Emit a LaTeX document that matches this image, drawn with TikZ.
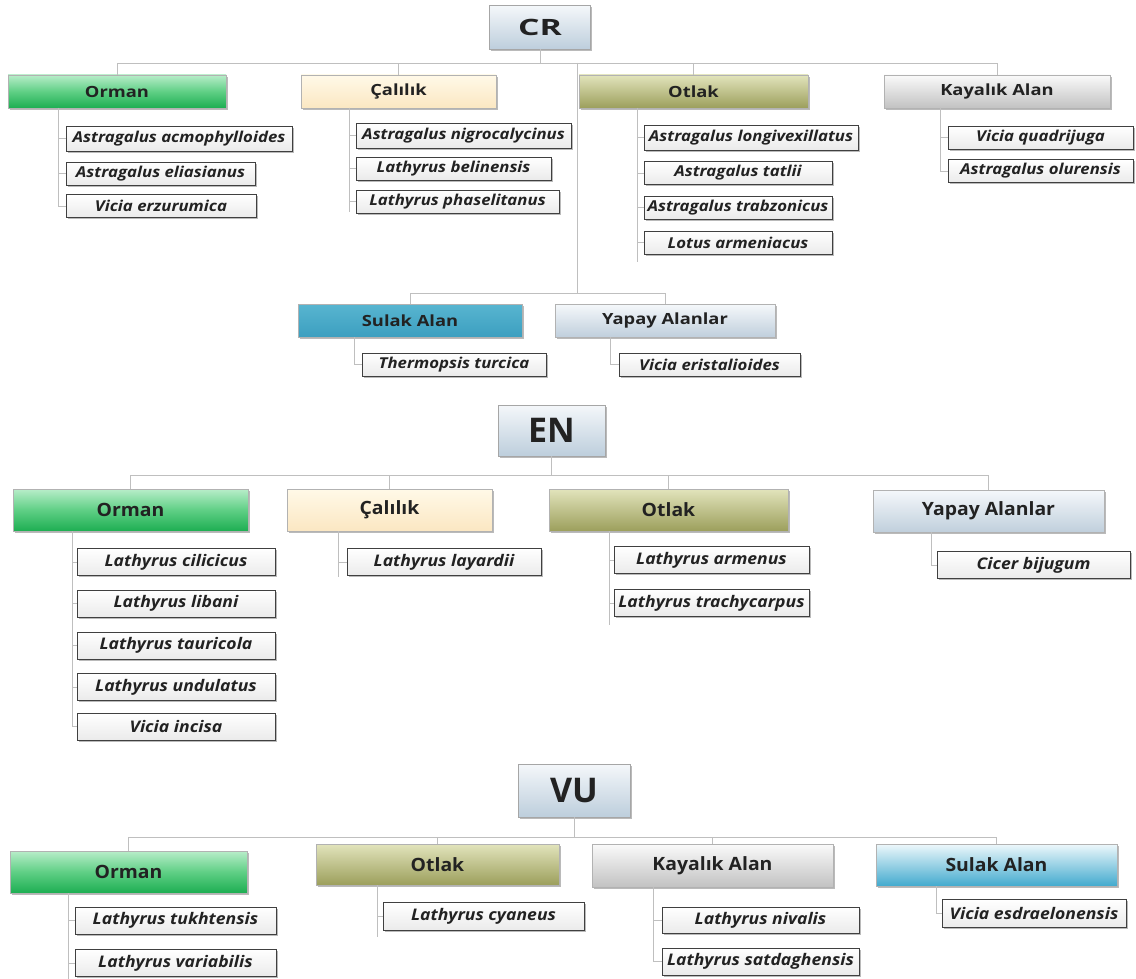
\documentclass[tikz,border=0pt]{standalone}
\usepackage{fontspec}
\setmainfont{Open Sans}
\newfontfamily\fLeafCR{Open Sans}[FakeStretch=1.12]
\newfontfamily\fLeaf{Open Sans}[FakeStretch=1.10]
\newfontfamily\fCatCR{Open Sans}[FakeStretch=1.19]
\newfontfamily\fCat{Open Sans}[FakeStretch=1.06]
\newfontfamily\fRootCR{Open Sans}[FakeStretch=1.5]
\usetikzlibrary{shadows}
\definecolor{txt}{HTML}{222222}
\definecolor{rootT}{HTML}{F4F7FA}\definecolor{rootB}{HTML}{BDCEDC}
\definecolor{ormT}{HTML}{B8EDC9}\definecolor{ormM}{HTML}{5FCF85}\definecolor{ormB}{HTML}{1DAE52}
\definecolor{calT}{HTML}{FFF9E8}\definecolor{calB}{HTML}{FBE7C2}
\definecolor{otlT}{HTML}{E2E4BC}\definecolor{otlB}{HTML}{9C9F5C}
\definecolor{kayT}{HTML}{FAFAFA}\definecolor{kayB}{HTML}{C2C2C2}
\definecolor{yapT}{HTML}{F5F8FB}\definecolor{yapB}{HTML}{C0CFDC}
\definecolor{sulT}{HTML}{58B5D0}\definecolor{sulB}{HTML}{3C9FC0}
\definecolor{sulVT}{HTML}{EEF8FB}\definecolor{sulVB}{HTML}{42AACE}
\tikzset{
  base/.style={inner sep=0pt, outer sep=0pt, text=txt,
    drop shadow={shadow xshift=1.6pt, shadow yshift=-1.6pt, opacity=.45, fill=black!60}},
  root/.style={base, draw=gray!70, top color=rootT, bottom color=rootB},
  rootCR/.style={root, font=\fRootCR\fontsize{22.5}{26}\selectfont\bfseries},
  rootBig/.style={root, font=\fontsize{34}{40}\selectfont\bfseries},
  cat/.style={base, draw=gray!60, font=\fCatCR\fontsize{15.4}{18}\selectfont\bfseries},
  catBig/.style={base, draw=gray!60, font=\fCat\fontsize{18.3}{21}\selectfont\bfseries},
  orm/.style={top color=ormT, bottom color=ormB, middle color=ormM},
  cal/.style={top color=calT, bottom color=calB},
  otl/.style={top color=otlT, bottom color=otlB},
  kay/.style={top color=kayT, bottom color=kayB},
  yap/.style={top color=yapT, bottom color=yapB},
  sul/.style={top color=sulT, bottom color=sulB},
  sulV/.style={top color=sulVT, bottom color=sulVB},
  leafbase/.style={base, draw=black!75, top color=white, bottom color=gray!16},
  leaf/.style={leafbase, font=\fLeafCR\fontsize{15}{17}\selectfont\bfseries\itshape},
  leafB/.style={leafbase, font=\fLeaf\fontsize{16}{18}\selectfont\bfseries\itshape},
  conn/.style={draw=gray!50, line width=0.9pt},
}
\begin{document}
\begin{tikzpicture}[x=1pt,y=-1pt]
\useasboundingbox[fill=white] (0,0) rectangle (1136,979);
% ================= CR =================
\node[rootCR, minimum width=101pt, minimum height=44pt] (cr) at (540,27.5) {CR};
\coordinate (crh) at (0,63);
\node[cat, orm, minimum width=218pt, minimum height=33pt] (crO) at (117,91.5) {Orman};
\node[cat, cal, minimum width=195pt, minimum height=33pt] (crC) at (398.5,91.5) {Çalılık};
\node[cat, otl, minimum width=229pt, minimum height=33pt] (crT) at (693.5,91.5) {Otlak};
\node[cat, kay, minimum width=226pt, minimum height=33pt] (crK) at (997,91.5) {Kayalık Alan};
\node[cat, sul, minimum width=224pt, minimum height=33pt] (crS) at (410,320.5) {Sulak Alan};
\node[cat, yap, minimum width=220pt, minimum height=33pt] (crY) at (665,320.5) {Yapay Alanlar};
\draw[conn] (cr.south) -- (cr.south |- crh) -| (crO.north);
\draw[conn] (cr.south |- crh) -| (crC.north);
\draw[conn] (cr.south |- crh) -| (crT.north);
\draw[conn] (cr.south |- crh) -| (crK.north);
\coordinate (crj) at (577,293);
\draw[conn] (crj |- crh) -- (crj) -| (crS.north);
\draw[conn] (crj) -| (crY.north);
% CR leaves
\node[leaf, minimum width=226pt, minimum height=25pt] (l1) at (179,138.5) {Astragalus acmophylloides};
\node[leaf, minimum width=189pt, minimum height=23pt] (l2) at (160.5,173.5) {Astragalus eliasianus};
\node[leaf, minimum width=190pt, minimum height=23pt] (l3) at (161,206) {Vicia erzurumica};
\coordinate (x1) at (58,0);
\draw[conn] (crO.south -| x1) |- (l1.west);
\draw[conn] (crO.south -| x1) |- (l2.west);
\draw[conn] (crO.south -| x1) |- (l3.west);
\node[leaf, minimum width=215pt, minimum height=25pt] (l4) at (463.5,135.5) {Astragalus nigrocalycinus};
\node[leaf, minimum width=195pt, minimum height=23pt] (l5) at (453.5,168.5) {Lathyrus belinensis};
\node[leaf, minimum width=203pt, minimum height=23pt] (l6) at (457.5,201.5) {Lathyrus phaselitanus};
\coordinate (x2) at (349,212);
\draw[conn] (crC.south -| x2) -- (x2);
\draw[conn] (crC.south -| x2) |- (l4.west);
\draw[conn] (crC.south -| x2) |- (l5.west);
\draw[conn] (crC.south -| x2) |- (l6.west);
\node[leaf, minimum width=214pt, minimum height=25pt] (l7) at (751,137.5) {Astragalus longivexillatus};
\node[leaf, minimum width=188pt, minimum height=23pt] (l8) at (738,173) {Astragalus tatlii};
\node[leaf, minimum width=188pt, minimum height=23pt] (l9) at (738,207.5) {Astragalus trabzonicus};
\node[leaf, minimum width=188pt, minimum height=23pt] (l10) at (738,242.5) {Lotus armeniacus};
\coordinate (x3) at (637,262);
\draw[conn] (crT.south -| x3) -- (x3);
\foreach \n in {l7,l8,l9,l10} \draw[conn] (crT.south -| x3) |- (\n.west);
\node[leaf, minimum width=185pt, minimum height=23pt] (l11) at (1040.5,137.5) {Vicia quadrijuga};
\node[leaf, minimum width=185pt, minimum height=23pt] (l12) at (1040.5,171) {Astragalus olurensis};
\coordinate (x4) at (940,0);
\draw[conn] (crK.south -| x4) |- (l11.west);
\draw[conn] (crK.south -| x4) |- (l12.west);
\node[leaf, minimum width=184pt, minimum height=23pt] (l13) at (454,364.5) {Thermopsis turcica};
\node[leaf, minimum width=181pt, minimum height=23pt] (l14) at (709.5,364.5) {Vicia eristalioides};
\coordinate (x5) at (354,0);
\coordinate (x6) at (610,0);
\draw[conn] (crS.south -| x5) |- (l13.west);
\draw[conn] (crY.south -| x6) |- (l14.west);
% ================= EN =================
\node[rootBig, minimum width=107pt, minimum height=51pt] (en) at (551.5,430.5) {EN};
\coordinate (enh) at (0,475);
\node[catBig, orm, minimum width=235pt, minimum height=42pt] (enO) at (130.5,510) {Orman};
\node[catBig, cal, minimum width=205pt, minimum height=42pt] (enC) at (389.5,510) {Çalılık};
\node[catBig, otl, minimum width=239pt, minimum height=42pt] (enT) at (668.5,510) {Otlak};
\node[catBig, yap, minimum width=231pt, minimum height=42pt] (enY) at (988.5,511) {Yapay Alanlar};
\draw[conn] (en.south) -- (en.south |- enh) -| (enO.north);
\draw[conn] (en.south |- enh) -| (enC.north);
\draw[conn] (en.south |- enh) -| (enT.north);
\draw[conn] (en.south |- enh) -| (enY.north);
\node[leafB, minimum width=198pt, minimum height=27pt] (e1) at (176,562) {Lathyrus cilicicus};
\node[leafB, minimum width=198pt, minimum height=27pt] (e2) at (176,603.5) {Lathyrus libani};
\node[leafB, minimum width=198pt, minimum height=27pt] (e3) at (176,645.5) {Lathyrus tauricola};
\node[leafB, minimum width=198pt, minimum height=27pt] (e4) at (176,687) {Lathyrus undulatus};
\node[leafB, minimum width=198pt, minimum height=27pt] (e5) at (176,726.5) {Vicia incisa};
\coordinate (y1) at (72,0);
\foreach \n in {e1,e2,e3,e4,e5} \draw[conn] (enO.south -| y1) |- (\n.west);
\node[leafB, minimum width=194pt, minimum height=27pt] (e6) at (444,562) {Lathyrus layardii};
\coordinate (y2) at (338,577);
\draw[conn] (enC.south -| y2) -- (y2);
\draw[conn] (enC.south -| y2) |- (e6.west);
\node[leafB, minimum width=195pt, minimum height=27pt] (e7) at (711.5,560) {Lathyrus armenus};
\node[leafB, minimum width=195pt, minimum height=27pt] (e8) at (711.5,603) {Lathyrus trachycarpus};
\coordinate (y3) at (609,625);
\draw[conn] (enT.south -| y3) -- (y3);
\draw[conn] (enT.south -| y3) |- (e7.west);
\draw[conn] (enT.south -| y3) |- (e8.west);
\node[leafB, minimum width=193pt, minimum height=27pt] (e9) at (1033.5,565) {Cicer bijugum};
\coordinate (y4) at (931,0);
\draw[conn] (enY.south -| y4) |- (e9.west);
% ================= VU =================
\node[rootBig, minimum width=112pt, minimum height=53pt] (vu) at (574,790.5) {VU};
\coordinate (vuh) at (0,837);
\node[catBig, orm, minimum width=237pt, minimum height=42pt] (vuO) at (128.5,872) {Orman};
\node[catBig, otl, minimum width=243pt, minimum height=41pt] (vuT) at (437.5,864.5) {Otlak};
\node[catBig, kay, minimum width=241pt, minimum height=43pt] (vuK) at (712.5,865.5) {Kayalık Alan};
\node[catBig, sulV, minimum width=241pt, minimum height=42pt] (vuS) at (996.5,865) {Sulak Alan};
\draw[conn] (vu.south) -- (vu.south |- vuh) -| (vuO.north);
\draw[conn] (vu.south |- vuh) -| (vuT.north);
\draw[conn] (vu.south |- vuh) -| (vuK.north);
\draw[conn] (vu.south |- vuh) -| (vuS.north);
\node[leafB, minimum width=201pt, minimum height=27pt] (v1) at (175.5,920.5) {Lathyrus tukhtensis};
\node[leafB, minimum width=201pt, minimum height=27pt] (v2) at (175.5,963) {Lathyrus variabilis};
\coordinate (z1) at (68,979);
\draw[conn] (vuO.south -| z1) -- (z1);
\draw[conn] (vuO.south -| z1) |- (v1.west);
\draw[conn] (vuO.south -| z1) |- (v2.west);
\node[leafB, minimum width=201pt, minimum height=28pt] (v3) at (483.5,916.5) {Lathyrus cyaneus};
\coordinate (z2) at (377,937);
\draw[conn] (vuT.south -| z2) -- (z2);
\draw[conn] (vuT.south -| z2) |- (v3.west);
\node[leafB, minimum width=197pt, minimum height=26pt] (v4) at (760.5,920) {Lathyrus nivalis};
\node[leafB, minimum width=197pt, minimum height=27pt] (v5) at (760.5,961.5) {Lathyrus satdaghensis};
\coordinate (z3) at (653,0);
\draw[conn] (vuK.south -| z3) |- (v4.west);
\draw[conn] (vuK.south -| z3) |- (v5.west);
\node[leafB, minimum width=184pt, minimum height=28pt] (v6) at (1034,913.5) {Vicia esdraelonensis};
\coordinate (z4) at (936,0);
\draw[conn] (vuS.south -| z4) |- (v6.west);
\end{tikzpicture}
\end{document}
